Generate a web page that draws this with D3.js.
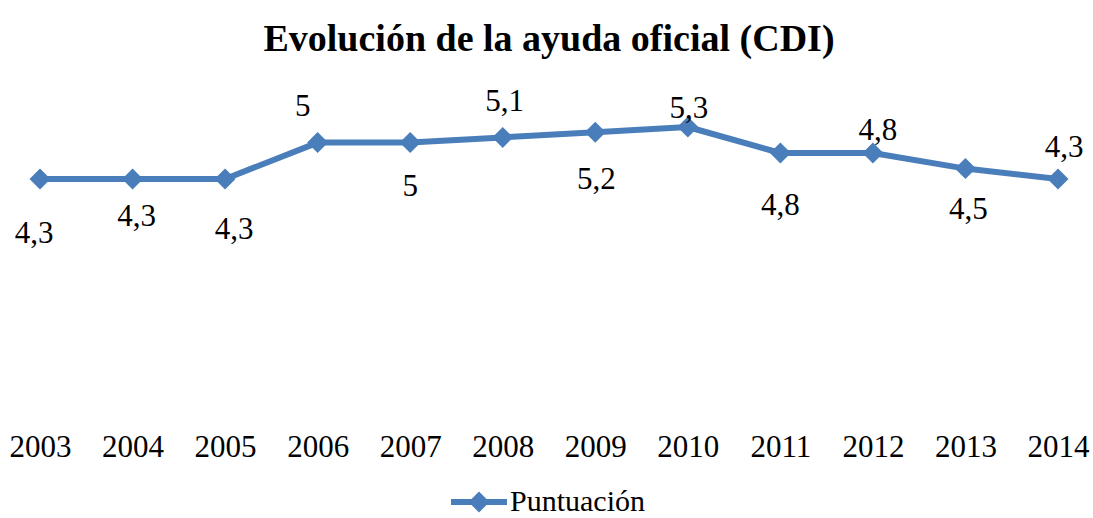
<!DOCTYPE html>
<html>
<head>
<meta charset="utf-8">
<script src="https://cdn.jsdelivr.net/npm/d3@7"></script>
<style>
  body { margin: 0; background: #fff; }
  text { font-family: "Liberation Serif", "Times New Roman", serif; fill: #000; }
</style>
</head>
<body>
<div id="chart"></div>
<script>
// data
var years = ["2003","2004","2005","2006","2007","2008","2009","2010","2011","2012","2013","2014"];
var puntuacion = [4.3, 4.3, 4.3, 5, 5, 5.1, 5.2, 5.3, 4.8, 4.8, 4.5, 4.3];
var seriesName = "Puntuación";
var title = "Evolución de la ayuda oficial (CDI)";

// label nudges (dx, dy of label centre from the point), as placed in the original
var labelDx = [-6, 4, 9, -15, 0, 2, 1, 1, 0, 5, 3, 6];
var labelDy = [53, 36, 49, -37, 43, -37, 46, -20, 51, -24, 40, -33];

var width = 1093, height = 518;
var color = "#4a7ebb";
var serif = "'Liberation Serif', 'Times New Roman', serif";

var svg = d3.select("#chart")
    .append("svg")
        .attr("width", width)
        .attr("height", height);

// X Scale
var x = d3.scalePoint()
    .domain(years)
    .range([40, 1058]);

// Y Scale (axis hidden)
var y = d3.scaleLinear()
    .domain([0, 6])
    .range([402.6, 90.6]);

// Title
svg.append("text")
    .attr("x", 549)
    .attr("y", 51)
    .attr("font-family", serif)
    .attr("font-size", "38px")
    .attr("font-weight", "bold")
    .attr("text-anchor", "middle")
    .text(title);

// X Axis (labels only)
var xAxisGroup = svg.append("g")
    .attr("transform", "translate(0,426)")
    .call(d3.axisBottom(x).tickSize(0).tickPadding(0));
xAxisGroup.attr("font-family", serif);
xAxisGroup.select(".domain").remove();
xAxisGroup.selectAll("text")
    .attr("font-size", "31px")
    .attr("dy", "1em")
    .attr("y", 0);

var line = d3.line()
    .x(function(d, i) { return x(years[i]); })
    .y(function(d) { return y(d); });

svg.append("path")
    .datum(puntuacion)
    .attr("fill", "none")
    .attr("stroke", color)
    .attr("stroke-width", 6)
    .attr("stroke-linejoin", "round")
    .attr("d", line);

var diamond = d3.symbol().type(d3.symbolSquare).size(220);

svg.selectAll(".marker")
    .data(puntuacion)
    .enter()
    .append("path")
        .attr("class", "marker")
        .attr("fill", color)
        .attr("d", diamond)
        .attr("transform", function(d, i) {
            return "translate(" + x(years[i]) + "," + y(d) + ") rotate(45)";
        });

// Data labels
var fmt = function(v) { return String(v).replace(".", ","); };
svg.selectAll(".label")
    .data(puntuacion)
    .enter()
    .append("text")
        .attr("class", "label")
        .attr("font-family", serif)
        .attr("font-size", "31px")
        .attr("text-anchor", "middle")
        .attr("x", function(d, i) { return x(years[i]) + labelDx[i]; })
        .attr("y", function(d, i) { return y(d) + labelDy[i] + 10.5; })
        .text(fmt);

// Legend
var legend = svg.append("g").attr("transform", "translate(451,502)");
legend.append("line")
    .attr("x1", 0).attr("x2", 56)
    .attr("stroke", color)
    .attr("stroke-width", 6);
legend.append("path")
    .attr("fill", color)
    .attr("d", diamond)
    .attr("transform", "translate(28,0) rotate(45)");
legend.append("text")
    .attr("x", 59)
    .attr("y", 9)
    .attr("font-family", serif)
    .attr("font-size", "30px")
    .text(seriesName);
</script>
</body>
</html>
